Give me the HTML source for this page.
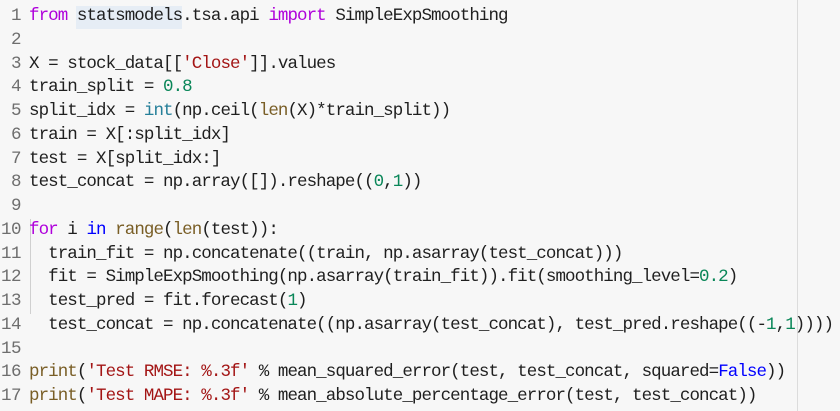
<!DOCTYPE html>
<html><head><meta charset="utf-8"><style>
html,body{margin:0;padding:0;background:#f7f7f7;width:840px;height:411px;overflow:hidden;position:relative}
.code{position:absolute;left:0;top:5px;font-family:"Liberation Mono",monospace;font-size:17.5px;letter-spacing:-0.93px;line-height:23.75px;color:#1f1f1f;white-space:pre}
.ln{display:inline-block;width:21px;text-align:right;color:#6e6e6e;margin-right:8px;letter-spacing:-0.5px}
.k{color:#af00db}.b{color:#0000ff}.f{color:#795e26}.t{color:#267f99}.s{color:#a31515}.n{color:#098658}
.vl{position:absolute;left:797px;top:0;width:1px;height:411px;background:#dcdcdc}
.guide{position:absolute;left:30px;top:219px;width:1px;height:95px;background:#d0d0d0}
.hl{position:absolute;left:76px;top:6px;width:106px;height:23px;background:#e6edf5}
</style></head><body>
<div class="hl"></div>
<div class="vl"></div>
<div class="guide"></div>
<div class="code"><span class="ln">1</span><span class="k">from</span> statsmodels.tsa.api <span class="k">import</span> SimpleExpSmoothing
<span class="ln">2</span>
<span class="ln">3</span>X = stock_data[[<span class="s">'Close'</span>]].values
<span class="ln">4</span>train_split = <span class="n">0.8</span>
<span class="ln">5</span>split_idx = <span class="t">int</span>(np.ceil(<span class="f">len</span>(X)*train_split))
<span class="ln">6</span>train = X[:split_idx]
<span class="ln">7</span>test = X[split_idx:]
<span class="ln">8</span>test_concat = np.array([]).reshape((<span class="n">0</span>,<span class="n">1</span>))
<span class="ln">9</span>
<span class="ln">10</span><span class="k">for</span> i <span class="b">in</span> <span class="f">range</span>(<span class="f">len</span>(test)):
<span class="ln">11</span>  train_fit = np.concatenate((train, np.asarray(test_concat)))
<span class="ln">12</span>  fit = SimpleExpSmoothing(np.asarray(train_fit)).fit(smoothing_level=<span class="n">0.2</span>)
<span class="ln">13</span>  test_pred = fit.forecast(<span class="n">1</span>)
<span class="ln">14</span>  test_concat = np.concatenate((np.asarray(test_concat), test_pred.reshape((-<span class="n">1</span>,<span class="n">1</span>))))
<span class="ln">15</span>
<span class="ln">16</span><span class="f">print</span>(<span class="s">'Test RMSE: %.3f'</span> % mean_squared_error(test, test_concat, squared=<span class="b">False</span>))
<span class="ln">17</span><span class="f">print</span>(<span class="s">'Test MAPE: %.3f'</span> % mean_absolute_percentage_error(test, test_concat))</div>
</body></html>
